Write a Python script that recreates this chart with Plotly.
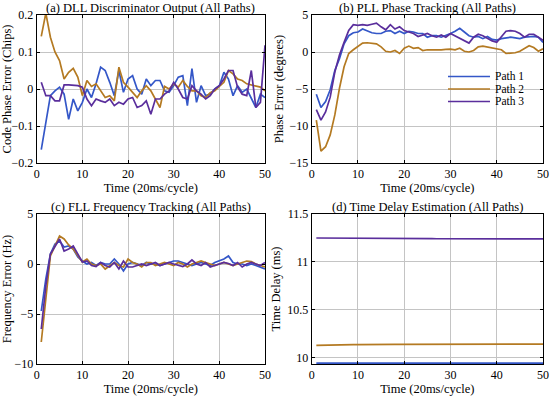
import plotly.graph_objects as go

t = list(range(1, 51))

# (a) DLL discriminator output (chips)
dll_p1 = [-0.164, -0.095, -0.018, -0.005, 0.005, -0.014, -0.082, -0.027, -0.059, -0.036,
          0.0, -0.023, 0.014, 0.059, 0.05, 0.018, -0.018, 0.05, -0.009, 0.027,
          0.036, 0.0, -0.014, 0.027, 0.009, 0.023, 0.023, -0.005, -0.009, 0.009,
          0.032, 0.036, -0.045, 0.055, -0.036, 0.009, -0.018, -0.014, 0.0, 0.009,
          0.045, 0.027, -0.018, 0.009, -0.009, 0.0, -0.027, -0.05, -0.014, -0.023]
dll_p2 = [0.142, 0.205, 0.14, 0.1, 0.077, 0.027, 0.045, 0.056, 0.032, -0.018,
          0.023, 0.007, 0.014, -0.005, -0.023, -0.018, -0.032, 0.059, 0.018, 0.005,
          -0.01, -0.023, -0.005, 0.009, -0.005, -0.027, -0.05, 0.007, 0.0, 0.014,
          0.005, 0.023, 0.007, -0.005, -0.005, -0.018, -0.023, -0.01, -0.005, 0.007,
          0.018, 0.05, 0.041, 0.027, 0.023, 0.014, 0.011, 0.007, 0.005, -0.005]
dll_p3 = [0.018, -0.018, -0.018, -0.032, -0.032, 0.011, 0.011, 0.011, 0.009, 0.005,
          -0.027, -0.045, -0.027, -0.032, -0.036, -0.027, -0.045, -0.036, -0.041, -0.027,
          -0.023, -0.05, -0.045, -0.032, -0.068, -0.027, -0.027, -0.014, -0.005, 0.018,
          0.0, -0.023, -0.027, 0.009, -0.005, -0.014, -0.027, -0.018, 0.0, 0.009,
          0.027, 0.05, 0.05, 0.005, -0.014, -0.018, 0.05, -0.05, -0.036, 0.118]

# (b) PLL phase error (degrees)
pll_p1 = [-5.7, -7.5, -6.7, -5.1, -2.5, -0.9, 1.1, 2.2, 2.6, 2.7,
          3.1, 2.8, 2.6, 2.5, 2.5, 2.8, 2.9, 2.5, 2.8, 2.5,
          2.8, 2.7, 2.5, 2.5, 2.0, 2.2, 2.2, 2.0, 2.2, 2.5,
          2.8, 3.2, 2.7, 2.2, 2.0, 2.1, 1.8, 2.1, 1.7, 1.6,
          1.8, 1.9, 2.0, 1.9, 1.8, 2.0, 2.1, 2.1, 2.0, 1.3]
pll_p2 = [-9.2, -13.4, -12.8, -11.2, -8.5, -4.9, -2.0, -0.2, 0.3, 0.7,
          1.2, 1.25, 1.2, 1.1, 0.7, 0.1, 0.0, 0.2, -0.2, 0.5,
          0.8, 0.5, 0.6, 0.2, 0.3, 0.3, 0.2, 0.3, 0.35, 0.4,
          0.3, 0.5, 0.1, 0.0, 0.2, 0.7, 0.8, 0.7, 0.6, 0.45,
          0.3, -0.2, -0.2, -0.1, 0.1, 0.45, 0.85, 0.6, 0.1, 0.45]
pll_p3 = [-7.8, -9.2, -8.1, -6.1, -2.7, -0.4, 1.3, 2.9, 3.7, 3.6,
          3.7, 3.6, 3.75, 3.9, 3.4, 3.0, 3.7, 3.1, 3.4, 2.9,
          2.7, 2.5, 2.1, 2.3, 2.5, 2.2, 2.0, 2.3, 2.0, 2.5,
          2.2, 1.9, 1.6, 1.2, 2.0, 2.4, 2.2, 1.8, 1.5, 1.3,
          2.0, 2.8, 2.9, 2.8, 2.5, 2.0, 2.4, 2.4, 2.0, 1.6]

# (c) FLL frequency error (Hz)
fll_p1 = [-4.7, -1.5, 1.0, 2.0, 2.3, 1.7, 1.8, 1.5, 0.7, 0.3,
          0.0, 0.15, -0.15, 0.15, 0.0, 0.0, 0.5, 0.0, -0.7, 0.0,
          0.15, 0.0, -0.15, 0.15, 0.0, 0.0, -0.15, 0.0, 0.15, 0.3,
          0.3, 0.15, 0.0, -0.15, 0.0, 0.15, 0.0, -0.15, 0.15, 0.3,
          0.5, 0.8, 0.15, 0.0, 0.0, -0.15, 0.0, -0.15, -0.3, -0.5]
fll_p2 = [-7.8, -3.3, 0.8, 1.8, 2.8, 2.5, 1.9, 1.5, 0.8, 0.2,
          0.5, 0.0, -0.15, 0.0, -0.5, -0.15, 0.15, -0.15, -0.3, 0.5,
          0.15, 0.0, -0.3, 0.15, 0.15, -0.15, 0.0, 0.15, 0.0, -0.15,
          0.15, 0.0, -0.3, 0.0, 0.15, 0.3, 0.15, 0.0, -0.15, 0.0,
          0.15, 0.0, -0.15, 0.0, 0.15, 0.3, 0.25, 0.0, -0.15, -0.3]
fll_p3 = [-6.5, -2.2, 1.0, 1.8, 2.5, 1.3, 1.5, 1.8, 1.0, 0.2,
          0.3, -0.15, -0.25, 0.15, -0.15, -0.3, 0.15, -0.5, 0.3, -0.3,
          -0.3, -0.15, 0.0, -0.15, 0.0, 0.15, -0.15, 0.0, 0.15, 0.0,
          -0.15, -0.25, 0.0, 0.4, 0.0, -0.15, 0.15, -0.3, -0.15, 0.0,
          0.15, 0.05, -0.15, 0.15, -0.3, 0.0, 0.15, 0.0, -0.15, 0.15]

# (d) Time delay (ms)
td_p1 = [9.945] * 50
td_p2 = [10.130, 10.132, 10.134, 10.135, 10.136, 10.137, 10.138, 10.138, 10.139, 10.139,
         10.140, 10.140, 10.140, 10.140, 10.140, 10.140, 10.140, 10.140, 10.140, 10.140,
         10.140, 10.140, 10.140, 10.140, 10.140, 10.140, 10.140, 10.140, 10.140, 10.140,
         10.140, 10.140, 10.141, 10.141, 10.141, 10.141, 10.141, 10.142, 10.142, 10.142,
         10.142, 10.142, 10.143, 10.143, 10.143, 10.143, 10.144, 10.144, 10.144, 10.144]
td_p3 = [11.250, 11.250, 11.250, 11.250, 11.249, 11.249, 11.249, 11.249, 11.248, 11.248,
         11.248, 11.247, 11.247, 11.247, 11.246, 11.246, 11.246, 11.245, 11.245, 11.245,
         11.244, 11.244, 11.244, 11.243, 11.243, 11.243, 11.242, 11.242, 11.242, 11.242,
         11.241, 11.241, 11.241, 11.241, 11.240, 11.240, 11.240, 11.240, 11.240, 11.240,
         11.240, 11.240, 11.240, 11.240, 11.240, 11.240, 11.240, 11.240, 11.240, 11.240]

names = ["Path 1", "Path 2", "Path 3"]
colors = ["#3457C8", "#B47A22", "#5A2E9C"]

panels = [
    ("(a) DLL Discriminator Output (All Paths)", "Code Phase Error (Chips)",
     [dll_p1, dll_p2, dll_p3], [-0.2, 0.2], [-0.2, -0.1, 0, 0.1, 0.2]),
    ("(b) PLL Phase Tracking (All Paths)", "Phase Error (degrees)",
     [pll_p1, pll_p2, pll_p3], [-15, 5], [-15, -10, -5, 0, 5]),
    ("(c) FLL Frequency Tracking (All Paths)", "Frequency Error (Hz)",
     [fll_p1, fll_p2, fll_p3], [-10, 5], [-10, -5, 0, 5]),
    ("(d) Time Delay Estimation (All Paths)", "Time Delay (ms)",
     [td_p1, td_p2, td_p3], [9.936, 11.5], [10, 10.5, 11, 11.5]),
]

W, H = 550, 396
xdoms = [(36.7 / W, 265 / W), (311.7 / W, 543 / W)]
ydoms = [(1 - 163 / H, 1 - 15 / H), (1 - 364 / H, 1 - 214 / H)]

FONT = "Liberation Serif"
fig = go.Figure()
annotations = []
shapes = []
for i, (title, ylab, series, yr, tv) in enumerate(panels):
    r, c = divmod(i, 2)
    idx = "" if i == 0 else str(i + 1)
    xa, ya = "x" + idx, "y" + idx
    for k in range(3):
        fig.add_trace(go.Scatter(
            x=t, y=series[k], mode="lines", name=names[k],
            line=dict(color=colors[k], width=1.7),
            xaxis=xa, yaxis=ya, showlegend=False))
    axcommon = dict(showline=True, linecolor="black", linewidth=1, mirror="ticks",
                    ticks="inside", ticklen=3, tickcolor="black", automargin=False,
                    showgrid=True, gridcolor="#c4c4c4", gridwidth=1, zeroline=False,
                    tickfont=dict(family=FONT, size=12, color="black"))
    fig.layout["xaxis" + idx] = dict(domain=list(xdoms[c]), range=[0, 50],
                                     tickvals=[0, 10, 20, 30, 40, 50], anchor=ya,
                                     title=dict(text="Time (20ms/cycle)", standoff=1,
                                                font=dict(family=FONT, size=12.5, color="black")),
                                     **axcommon)
    fig.layout["yaxis" + idx] = dict(domain=list(ydoms[r]), range=yr, tickvals=tv, anchor=xa,
                                     title=dict(text=ylab, standoff=3,
                                                font=dict(family=FONT, size=12.5, color="black")),
                                     **axcommon)
    annotations.append(dict(text=title, x=(xdoms[c][0] + xdoms[c][1]) / 2, y=ydoms[r][1],
                            xref="paper", yref="paper", xanchor="center", yanchor="bottom",
                            showarrow=False, yshift=-2,
                            font=dict(family=FONT, size=12.5, color="black")))

# legend drawn inside panel (b)
leg_rows = [76.5, 89, 101.5]
for k in range(3):
    yk = 1 - leg_rows[k] / H
    shapes.append(dict(type="line", xref="paper", yref="paper",
                       x0=448 / W, x1=490 / W, y0=yk, y1=yk,
                       line=dict(color=colors[k], width=1.7)))
    annotations.append(dict(text=names[k], x=493 / W, y=yk, xref="paper", yref="paper",
                            xanchor="left", yanchor="middle", showarrow=False,
                            font=dict(family=FONT, size=11.5, color="black")))

fig.update_layout(
    width=W, height=H, margin=dict(l=0, r=0, t=0, b=0),
    paper_bgcolor="white", plot_bgcolor="white",
    annotations=annotations, shapes=shapes, showlegend=False,
)
fig.write_html("out.html", config={"displayModeBar": False},
               post_script="document.body.style.margin='0';")
